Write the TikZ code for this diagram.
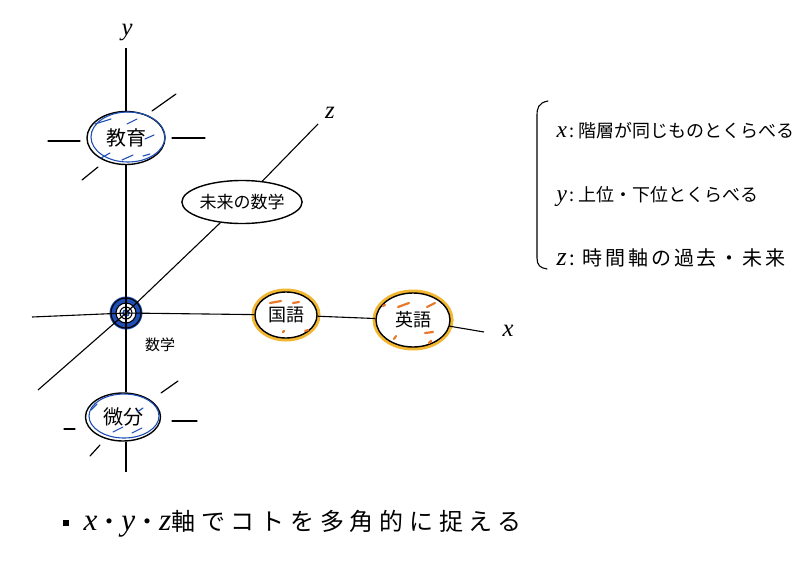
\documentclass[tikz,border=0pt]{standalone}
\usepackage{fontspec}
\setmainfont{Noto Sans CJK JP}
\newfontfamily\widejp[LetterSpace=24]{Noto Sans CJK JP}
\newfontfamily\midjp[LetterSpace=14]{Noto Sans CJK JP}
\newfontfamily\latinf[Scale=1.3]{Liberation Serif}
\newcommand{\axv}[1]{{\latinf\itshape #1}}
\usetikzlibrary{shapes.geometric}
\definecolor{penblue}{HTML}{1E4FB5}
\definecolor{marker}{HTML}{F2B630}
\definecolor{orangem}{HTML}{E8782A}
\tikzset{
  axis/.style={line width=1.1pt, black},
  bubble/.style={ellipse, draw=black, line width=1.4pt, inner sep=0pt, fill=white},
  yellowbubble/.style={bubble, preaction={draw=marker, line width=7pt}},
  ray/.style={line width=1.2pt, black, line cap=round},
  hatch/.style={penblue, line width=1.1pt, line cap=round},
  omark/.style={orangem, line width=2.2pt, line cap=round},
  axlabel/.style={font=\fontsize{19}{22}\latinf\itshape},
  legend/.style={anchor=west, font=\fontsize{18}{20}\selectfont},
}
\begin{document}
\begin{tikzpicture}[x=1pt,y=-1pt]
\fill[white] (0,0) rectangle (800,562);
\useasboundingbox (0,0) rectangle (800,562);

% axis end points
\coordinate (ytop) at (126,48);
\coordinate (ybot) at (126,472);
\coordinate (xl) at (32,317);
\coordinate (xr) at (484,332);
\coordinate (zl) at (38,390);
\coordinate (zr) at (318,124);

% origin
\node[circle, fill=penblue, minimum size=33pt, inner sep=0pt] (o) at (126,313) {};
\fill[white] (o.center) circle [radius=10];
\draw[line width=1.2pt] (o.center) circle [radius=15];
\draw[line width=1.1pt] (o.center) circle [radius=10];
\draw[line width=1pt] (o.center) circle [radius=6];
\draw[penblue, line width=1.5pt] (o.center) circle [radius=3];

% nodes
\node[bubble, minimum width=78pt, minimum height=53pt, font=\fontsize{20}{22}\selectfont] (edu) at (126,138) {教育};
\node[bubble, minimum width=98pt, minimum height=43pt, font=\fontsize{17}{19}\selectfont] (mirai) at (242,202) {未来の数学};
\node[yellowbubble, minimum width=62pt, minimum height=46pt, font=\fontsize{18}{20}\selectfont] (kokugo) at (286,315) {国語};
\node[yellowbubble, minimum width=74pt, minimum height=54pt, font=\fontsize{18}{20}\selectfont] (eigo) at (413,320) {英語};
\node[bubble, minimum width=75pt, minimum height=48pt, font=\fontsize{20}{22}\selectfont] (bibun) at (123,417) {微分};
\node[font=\fontsize{15}{17}\selectfont] (sugaku) at (160,345) {数学};

% axes
\draw[axis] (ytop) -- (edu);
\draw[axis] (edu) -- (o.center);
\draw[axis] (o.center) -- (o.center |- bibun.north);
\draw[axis] (ybot |- bibun.south) -- (ybot);
\draw[axis] (xl) -- (o.center);
\draw[axis] (o.center) -- (kokugo);
\draw[axis] (kokugo) -- (eigo);
\draw[axis] (eigo) -- (xr);
\draw[axis] (zl) -- (o.center);
\draw[axis] (o.center) -- (mirai);
\draw[axis] (mirai) -- (zr);

\node[axlabel] (ylab) at (127,32) {y};
\node[axlabel] (zlab) at (330,113) {z};
\node[axlabel] (xlab) at (508,331) {x};

% blue accents on 教育
\draw[penblue, line width=1.1pt] (128,137) ellipse [x radius=37, y radius=25];
\draw[hatch] (95,124) -- (111,119);
\draw[hatch] (127,124) -- (137,119);
\draw[hatch] (145,139) -- (154,135);
\draw[hatch] (101,158) -- (110,153);
\draw[hatch] (122,160) -- (133,155);
\draw[hatch] (143,156) -- (150,154);
% rays around 教育
\draw[ray] (48,141) -- (80,141);
\draw[ray] (152,111) -- (176,94);
\draw[ray] (172,138) -- (205,138);
\draw[ray] (82,180) -- (98,167);

% blue accents on 微分
\draw[penblue, line width=1.1pt] (124,416) ellipse [x radius=35, y radius=22];
\draw[hatch] (113,432) -- (123,427);
\draw[hatch] (132,433) -- (142,428);
\draw[hatch] (137,412) -- (143,408);
\draw[hatch] (91,410) -- (97,404);
% rays around 微分
\draw[ray] (161,393) -- (178,381);
\draw[ray] (172,421) -- (197,421);
\draw[ray] (64,429) -- (75,429);
\draw[ray] (90,456) -- (100,445);

% orange marks
\draw[omark] (270,303) -- (281,301);
\draw[omark] (293,303) -- (299,302);
\draw[omark] (283,332) -- (284,331);
\draw[omark] (305,331) -- (308,330);
\draw[omark] (383,306) -- (385,305);
\draw[omark] (398,307) -- (409,303);
\draw[omark] (427,307) -- (435,303);
\draw[omark] (394,339) -- (396,336);
\draw[omark] (425,333) -- (433,332);
\draw[omark] (429,343) -- (431,341);

% legend
\draw[line width=1.1pt, line cap=round] (548,101) .. controls (538,103) and (537,108) .. (537,116) -- (537,258) .. controls (537,265) and (540,268) .. (547,269);
\node[legend] (lx) at (553,131) {\axv{x}\,:\ 階層が同じものとくらべる};
\node[legend] (ly) at (553,196) {\axv{y}\,:\ 上位・下位とくらべる};
\node[legend, font=\fontsize{20}{22}\midjp] (lz) at (553,258) {\axv{z}\,:\ 時間軸の過去・未来};

% bottom note
\node[fill=black, minimum size=6pt, inner sep=0pt] (bul) at (66,523) {};
\node[anchor=west, font=\fontsize{24}{26}\widejp] (note) at (80,524) {\axv{x}・\axv{y}・\axv{z}軸でコトを多角的に捉える};
\end{tikzpicture}
\end{document}
